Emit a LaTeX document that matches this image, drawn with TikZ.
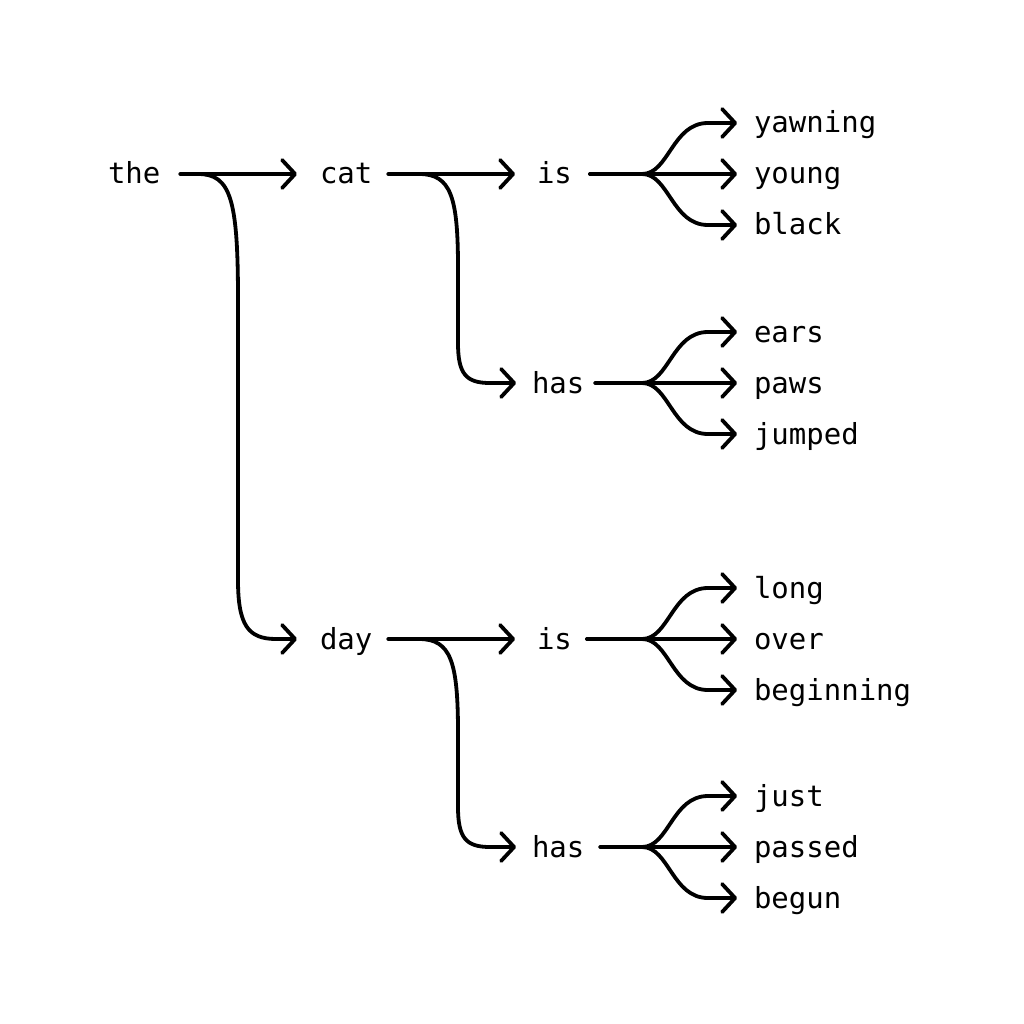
\documentclass[tikz,border=0pt]{standalone}
\usepackage{fontspec}
\usetikzlibrary{arrows.meta,calc}
\newfontfamily\wordfont{DejaVu Sans Mono}
\newcommand\fanout[6]{%
  \draw[link] ([xshift=#6pt]#1.east) -- ([xshift=-17pt]#3.west);
  \draw[link] ([xshift=#6pt]#1.east) -- (642,#5) .. controls (669,#5) and (672,#5-51) .. (708,#5-51) -- ([xshift=-17pt]#2.west);
  \draw[link] ([xshift=#6pt]#1.east) -- (642,#5) .. controls (669,#5) and (672,#5+51) .. (708,#5+51) -- ([xshift=-17pt]#4.west);
}
\begin{document}
\begin{tikzpicture}[x=1pt,y=-1pt,
  word/.style={font=\wordfont\fontsize{29}{34}\selectfont, inner sep=0pt, outer sep=0pt,
    text height=24pt, text depth=4pt, anchor=west},
  link/.style={line width=3.8pt, line cap=round,
    -{Straight Barb[length=13pt,width=28pt,round]}}]
\useasboundingbox (0,0) rectangle (1024,1024);
% words
\node[word] (the) at (108,174) {the};
\node[word] (cat) at (320,174) {cat};
\node[word] (day) at (320,639) {day};
\node[word] (is1) at (537,174) {is};
\node[word] (has1) at (532,383) {has};
\node[word] (is2) at (537,639) {is};
\node[word] (has2) at (532,847) {has};
\node[word] (yawning) at (754,123) {yawning};
\node[word] (young) at (754,174) {young};
\node[word] (black) at (754,225) {black};
\node[word] (ears) at (754,332) {ears};
\node[word] (paws) at (754,383) {paws};
\node[word] (jumped) at (754,434) {jumped};
\node[word] (long) at (754,588) {long};
\node[word] (over) at (754,639) {over};
\node[word] (beginning) at (754,690) {beginning};
\node[word] (just) at (754,796) {just};
\node[word] (passed) at (754,847) {passed};
\node[word] (begun) at (754,898) {begun};
% level 1
\draw[link] ([xshift=20pt]the.east) -- ([xshift=-23pt]cat.west);
\draw[link] ([xshift=20pt]the.east) -- (198,174) .. controls (231,174) and (238,200) .. (238,300)
  -- (238,580) .. controls (238,625) and (248,639) .. (276,639) -- ([xshift=-23pt]day.west);
% level 2
\draw[link] ([xshift=16pt]cat.east) -- ([xshift=-22pt]is1.west);
\draw[link] ([xshift=16pt]cat.east) -- (419,174) .. controls (451,174) and (458,197) .. (458,268)
  -- (458,343) .. controls (458,374) and (466,383) .. (490,383) -- ([xshift=-16pt]has1.west);
\draw[link] ([xshift=16pt]day.east) -- ([xshift=-22pt]is2.west);
\draw[link] ([xshift=16pt]day.east) -- (419,639) .. controls (451,639) and (458,662) .. (458,733)
  -- (458,807) .. controls (458,838) and (466,847) .. (490,847) -- ([xshift=-16pt]has2.west);
% level 3
\fanout{is1}{yawning}{young}{black}{174}{18}
\fanout{has1}{ears}{paws}{jumped}{383}{11}
\fanout{is2}{long}{over}{beginning}{639}{15}
\fanout{has2}{just}{passed}{begun}{847}{16}
\end{tikzpicture}
\end{document}
